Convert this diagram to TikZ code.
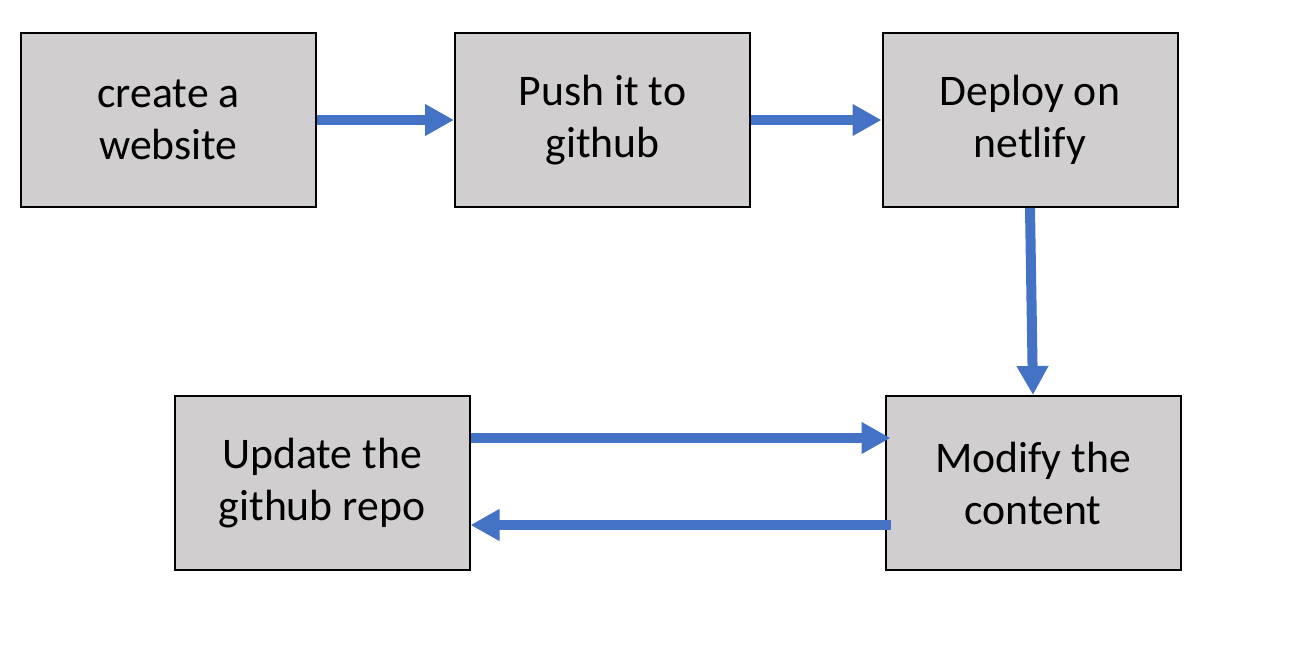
\documentclass[tikz,border=0pt]{standalone}
\usepackage{fontspec}
\setmainfont{Carlito}
\usetikzlibrary{arrows.meta}
\definecolor{boxfill}{HTML}{D0CECE}
\definecolor{arrowblue}{HTML}{4472C4}
\tikzset{
  stepbox/.style={draw=black, line width=2pt, fill=boxfill, minimum width=295pt, minimum height=174pt, align=center, inner sep=0pt, font=\fontsize{43.7}{52}\selectfont},
  flow/.style={draw=arrowblue, line width=10pt, -{Triangle[length=29pt,width=30pt]}}
}
\begin{document}
\begin{tikzpicture}[x=1pt,y=-1pt]
\useasboundingbox (0,0) rectangle (1293,660);
\node[stepbox] (n1) at (168.5,120) {create a\\website};
\node[stepbox] (n2) at (602.5,120) {Push it to\\github};
\node[stepbox] (n3) at (1030,120) {Deploy on\\netlify};
\node[stepbox] (n4) at (322,483) {Update the\\github repo};
\node[stepbox] (n5) at (1033,483) {Modify the\\content};
\draw[flow] (n1.east) -- (n2.west);
\draw[flow] (n2.east) -- (n3.west);
\draw[flow] (n3.south) -- (n5.north);
\draw[flow] ([yshift=45pt]n4.east) -- ([yshift=45pt,xshift=6pt]n5.west);
\draw[flow] ([yshift=-42pt,xshift=6pt]n5.west) -- ([yshift=-42pt]n4.east);
\end{tikzpicture}
\end{document}
